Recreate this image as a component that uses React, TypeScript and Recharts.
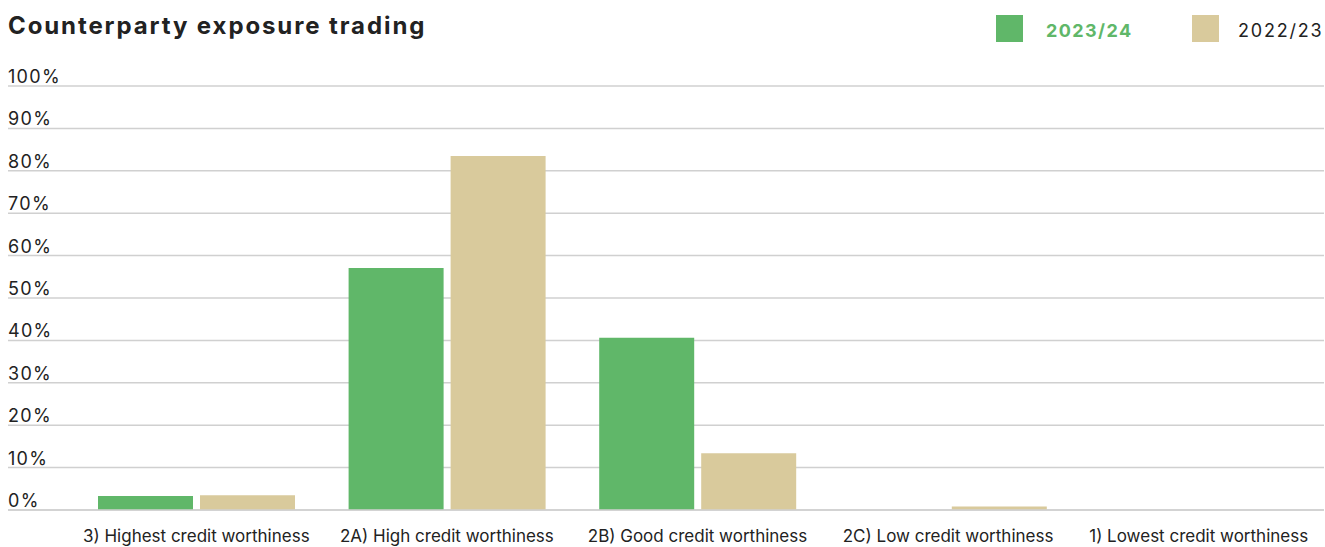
import { BarChart, Bar, XAxis, YAxis, CartesianGrid } from 'recharts';

const categories = [
  '3) Highest credit worthiness',
  '2A) High credit worthiness',
  '2B) Good credit worthiness',
  '2C) Low credit worthiness',
  '1) Lowest credit worthiness',
];
const fy2324 = [3.3, 57.1, 40.6, 0, 0];
const fy2223 = [3.5, 83.5, 13.4, 0.8, 0];
const yTicks = [0, 10, 20, 30, 40, 50, 60, 70, 80, 90, 100];

const data = categories.map((name, i) => ({ name, fy2324: fy2324[i], fy2223: fy2223[i] }));

const GREEN = '#60b769';
const BEIGE = '#d9ca9c';
const GRID = '#d0d0d0';
const TEXT = '#222222';
const FONT = 'Inter, "Open Sans", sans-serif';

const YTick = (props: any) => {
  const { y, payload } = props;
  return (
    <text x={8} y={y - 3} fill={TEXT} fontSize={18} letterSpacing={1.3} fontFamily={FONT} textAnchor="start">
      {payload.value}%
    </text>
  );
};

export default function App() {
  return (
    <div style={{ position: 'absolute', left: 0, top: 0, width: 1325, height: 547, background: '#fff', fontFamily: FONT }}>
      <div style={{ position: 'absolute', left: 8, top: 11, fontSize: 24, fontWeight: 700, letterSpacing: 1.9, color: TEXT, whiteSpace: 'nowrap' }}>
        Counterparty exposure trading
      </div>
      <div style={{ position: 'absolute', left: 996, top: 15, width: 27, height: 27, background: GREEN }} />
      <div style={{ position: 'absolute', left: 1046, top: 20, fontSize: 18, fontWeight: 700, letterSpacing: 1.4, color: GREEN }}>2023/24</div>
      <div style={{ position: 'absolute', left: 1192, top: 15, width: 27, height: 27, background: BEIGE }} />
      <div style={{ position: 'absolute', left: 1238, top: 20, fontSize: 18, letterSpacing: 1.8, color: TEXT }}>2022/23</div>
      <BarChart
        width={1325}
        height={547}
        data={data}
        margin={{ top: 86, right: 1, left: 8, bottom: 0 }}
        barSize={95}
        barGap={7}
        style={{ position: 'absolute', left: 0, top: 0 }}
      >
        <CartesianGrid vertical={false} stroke={GRID} strokeWidth={1.5} />
        <XAxis
          dataKey="name"
          padding={{ left: 63, right: 0 }}
          height={37}
          axisLine={{ stroke: GRID, strokeWidth: 1.5 }}
          tickLine={false}
          tickSize={0}
          tickMargin={20}
          interval={0}
          tick={{ fill: TEXT, fontSize: 17, fontFamily: FONT }}
        />
        <YAxis
          mirror
          domain={[0, 100]}
          ticks={yTicks}
          axisLine={false}
          tickLine={false}
          tick={<YTick />}
        />
        <Bar dataKey="fy2324" fill={GREEN} isAnimationActive={false} />
        <Bar dataKey="fy2223" fill={BEIGE} isAnimationActive={false} />
      </BarChart>
    </div>
  );
}
